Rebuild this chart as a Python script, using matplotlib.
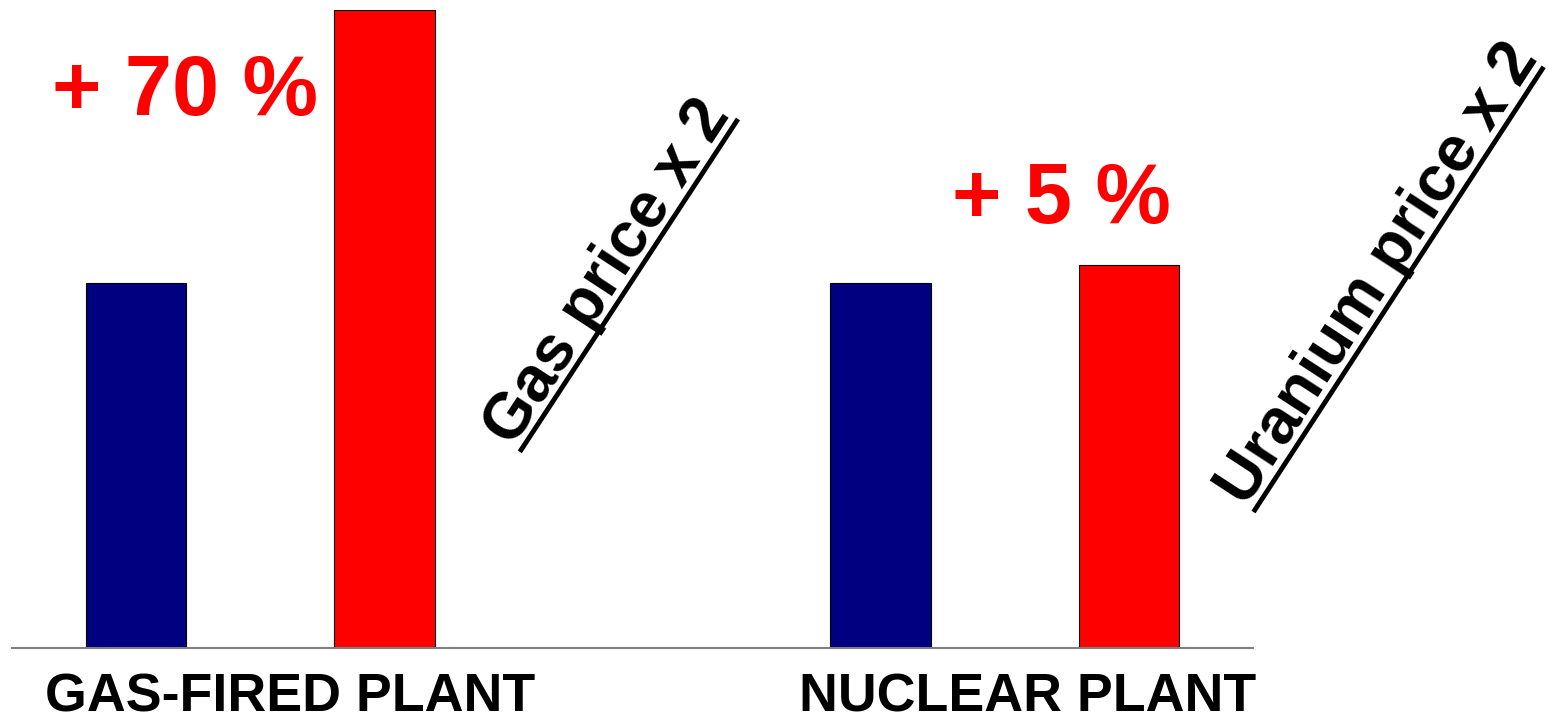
import matplotlib.pyplot as plt
import numpy as np

# cost index, reference case = 100
positions = [0, 1, 3, 4]
values = [100, 175, 100, 105]
colors = ["#000080", "#ff0000", "#000080", "#ff0000"]

plants = ["GAS-FIRED PLANT", "NUCLEAR PLANT"]
plant_x = [0.62, 3.59]

increases = ["+ 70 %", "+ 5 %"]
scenarios = ["Gas price x 2", "Uranium price x 2"]

plt.rcParams['font.family'] = ['Liberation Sans', 'DejaVu Sans']
plt.rcParams['font.weight'] = 'bold'

fig = plt.figure(figsize=(15.48, 7.2), dpi=100)
ax = fig.add_axes([12 / 1548, 72 / 720, 1241 / 1548, 638 / 720])

ax.bar(positions, values, width=0.405, color=colors, edgecolor="black", linewidth=0.8)
ax.set_xlim(-0.5, 4.5)
ax.set_ylim(0, 175)

for s in ["top", "right", "left"]:
    ax.spines[s].set_visible(False)
ax.spines["bottom"].set_color("#7f7f7f")
ax.spines["bottom"].set_linewidth(1.5)
ax.set_xticks([])
ax.set_yticks([])

# plant names under the axis
for x, name in zip(plant_x, plants):
    ax.text(x, -17.5, name, ha="center", va="baseline", fontsize=38.7,
            fontweight="bold", color="black", clip_on=False)

# percentage increase
ax.text(-0.337, 146.2, increases[0], ha="left", va="baseline", fontsize=61,
        fontweight="bold", color="#ff0000")
ax.text(3.288, 116.6, increases[1], ha="left", va="baseline", fontsize=61,
        fontweight="bold", color="#ff0000")

# underlined slanted scenario labels
ax.text(1.518, 54.9, scenarios[0], rotation=56.8, rotation_mode="anchor",
        ha="left", va="baseline", fontsize=46, fontweight="bold", clip_on=False)
ax.plot([1.546, 2.425], [53.8, 145.1], color="black", linewidth=3.5, clip_on=False,
        solid_capstyle="butt")

ax.text(4.474, 38.4, scenarios[1], rotation=56.9, rotation_mode="anchor",
        ha="left", va="baseline", fontsize=46, fontweight="bold", clip_on=False)
ax.plot([4.502, 5.671], [37.3, 159.4], color="black", linewidth=3.5, clip_on=False,
        solid_capstyle="butt")

fig.savefig("out.png", dpi=100, facecolor="white")
